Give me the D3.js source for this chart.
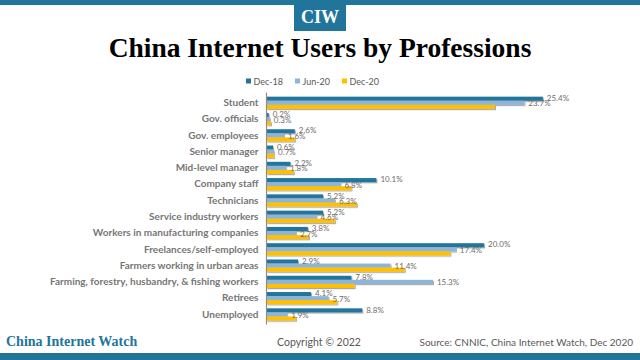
<!DOCTYPE html>
<html><head><meta charset="utf-8">
<script src="https://cdn.jsdelivr.net/npm/d3@7"></script>
<style>body{margin:0;background:#fff}svg{display:block}</style>
</head><body><svg id="c" width="640" height="360"></svg>
<script>
const categories = ["Student","Gov. officials","Gov. employees","Senior manager","Mid-level manager","Company staff","Technicians","Service industry workers","Workers in manufacturing companies","Freelances/self-employed","Farmers working in urban areas","Farming, forestry, husbandry, & fishing workers","Retirees","Unemployed"];
const seriesNames = ["Dec-18","Jun-20","Dec-20"];
const dec18 = [25.4,0.2,2.6,0.6,2.2,10.1,5.2,5.2,3.8,20.0,2.9,7.8,4.1,8.8];
const jun20 = [23.7,0.3,1.6,0.7,1.8,6.8,6.3,4.6,2.7,17.4,11.4,15.3,5.7,1.9];
const dec20 = [21.0,0.4,2.6,0.7,2.5,7.8,8.3,6.3,3.9,16.9,12.7,8.1,6.5,2.7];
const colors = ["#21759b","#8db4d9","#ffc000"];
const labelled = [true,true,false];

const svg = d3.select("#c");
const teal = "#21759b";
const defs = svg.append("defs");
const f = defs.append("filter").attr("id","sh").attr("x","-5%").attr("y","-50%").attr("width","120%").attr("height","250%");
f.append("feDropShadow").attr("dx",1).attr("dy",1.2).attr("stdDeviation",0.7).attr("flood-color","#000").attr("flood-opacity",0.35);

// header
svg.append("rect").attr("x",0).attr("y",0).attr("width",640).attr("height",5).attr("fill",teal);
svg.append("rect").attr("x",294).attr("y",0).attr("width",52).attr("height",31).attr("fill",teal);
svg.append("text").attr("x",320).attr("y",23).attr("text-anchor","middle").attr("fill","#fff")
  .attr("font-family","Liberation Serif").attr("font-weight","bold").attr("font-size",18).text("CIW");
svg.append("text").attr("x",320).attr("y",57).attr("text-anchor","middle").attr("fill","#000")
  .attr("font-family","Liberation Serif").attr("font-weight","bold").attr("font-size",27.5).text("China Internet Users by Professions");

// legend
const legX = [246,295,342];
seriesNames.forEach((s,i)=>{
  svg.append("rect").attr("x",legX[i]).attr("y",78.5).attr("width",5).attr("height",5).attr("fill",colors[i]);
  svg.append("text").attr("x",legX[i]+7.5).attr("y",84.5).attr("font-family","Lato").attr("font-size",9).attr("fill","#595959").text(s);
});

// scales
const x = d3.scaleLinear().domain([0,30]).range([266.5, 266.5+30*10.88]);
const y = d3.scaleBand().domain(categories).range([92.6,324.6]).paddingInner(0.25).paddingOuter(0.25);
const ys = d3.scaleBand().domain(seriesNames).range([0,y.bandwidth()]);

const data = [dec18,jun20,dec20];
const g = svg.append("g");
seriesNames.forEach((s,si)=>{
  g.selectAll(null).data(categories).enter().append("rect")
    .attr("x",x(0)).attr("y",c=>y(c)+ys(s)).attr("width",(c,i)=>x(data[si][i])-x(0)).attr("height",ys.bandwidth())
    .attr("fill",colors[si]).attr("filter","url(#sh)");
});
// axis
const yAxis = d3.axisLeft(y).tickSize(0).tickPadding(8);
const ag = svg.append("g").attr("transform",`translate(${x(0)},0)`).call(yAxis);
ag.select(".domain").attr("stroke","#8c8c8c").attr("stroke-width",1.2).attr("d",`M0,92.6V324.6`);
ag.selectAll("text").attr("font-family","Lato").attr("font-weight","bold").attr("font-size",10).attr("fill","#767676");

// value labels
const dy = [-0.6, 0.8];
seriesNames.forEach((s,si)=>{
  if(!labelled[si]) return;
  g.selectAll(null).data(categories).enter().append("text")
    .attr("x",(c,i)=>x(data[si][i])+4).attr("y",c=>y(c)+ys(s)+ys.bandwidth()/2+2.8+dy[si])
    .attr("font-family","Lato").attr("font-size",8).attr("fill","#6d6d6d")
    .text((c,i)=>data[si][i].toFixed(1)+"%");
});

// footer
svg.append("text").attr("x",6).attr("y",346).attr("fill",teal).attr("font-family","Liberation Serif").attr("font-weight","bold").attr("font-size",14).text("China Internet Watch");
svg.append("text").attr("x",319).attr("y",345.5).attr("text-anchor","middle").attr("fill","#595959").attr("font-family","Lato").attr("font-size",10.5).text("Copyright © 2022");
svg.append("text").attr("x",633).attr("y",345.5).attr("text-anchor","end").attr("fill","#595959").attr("font-family","Lato").attr("font-size",10).text("Source: CNNIC, China Internet Watch, Dec 2020");
svg.append("rect").attr("x",0).attr("y",353).attr("width",640).attr("height",7).attr("fill",teal);
</script></body></html>
